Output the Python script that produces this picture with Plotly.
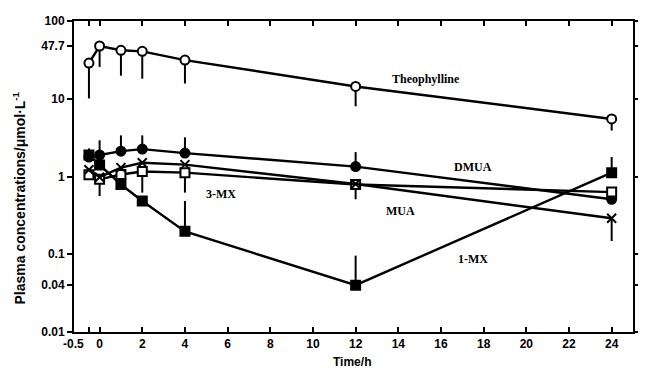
import math
import plotly.graph_objects as go

time_h = [-0.5, 0, 1, 2, 4, 12, 24]

theophylline = [28.8, 47.7, 42.0, 40.7, 31.4, 14.4, 5.5]
theo_lo = [10.1, 25.7, 19.8, 18.1, 15.7, 8.0, 3.9]

dmua = [1.78, 1.89, 2.12, 2.25, 2.0, 1.34, 0.51]
dmua_hi = [2.3, 2.92, 3.38, 3.38, 3.19, 2.06, 0.51]

mua = [1.05, 0.92, 1.06, 1.16, 1.12, 0.79, 0.63]
mua_lo = [1.05, 0.56, 1.06, 0.62, 0.62, 0.51, 0.63]

mx3 = [1.22, 0.98, 1.30, 1.50, 1.42, 0.80, 0.29]
mx3_lo = [1.22, 0.98, 1.30, 1.50, 1.42, 0.80, 0.148]

mx1 = [1.89, 1.41, 0.79, 0.485, 0.197, 0.040, 1.12]
mx1_hi = [1.89, 1.41, 0.79, 0.485, 0.485, 0.096, 1.78]

y_ticks = [100, 47.7, 10, 1, 0.1, 0.04, 0.01]
y_ticktext = ["100", "47.7", "10", "1", "0.1", "0.04", "0.01"]
x_ticks = [-0.5, 0, 2, 4, 6, 8, 10, 12, 14, 16, 18, 20, 22, 24]
x_ticktext = ["-0.5", "0", "2", "4", "6", "8", "10", "12", "14", "16", "18", "20", "22", "24"]

labels = ["Theophylline", "DMUA", "MUA", "3-MX", "1-MX"]
label_x = [15.3, 17.5, 14.1, 5.7, 17.5]
label_y = [18.1, 1.34, 0.36, 0.59, 0.088]


def err(vals, hi=None, lo=None):
    plus = [h - v for v, h in zip(vals, hi)] if hi else [0] * len(vals)
    minus = [v - l for v, l in zip(vals, lo)] if lo else [0] * len(vals)
    return dict(type="data", symmetric=False, array=plus, arrayminus=minus,
                color="black", thickness=2, width=0)


fig = go.Figure()
series = [
    (theophylline, None, theo_lo, "circle", "white"),
    (dmua, dmua_hi, None, "circle", "black"),
    (mua, None, mua_lo, "square", "white"),
    (mx3, None, mx3_lo, "x-thin-open", "black"),
    (mx1, mx1_hi, None, "square", "black"),
]
for vals, hi, lo, sym, fill in series:
    marker = dict(symbol=sym, size=9, color=fill, line=dict(color="black", width=2))
    fig.add_trace(go.Scatter(
        x=time_h, y=vals, mode="lines+markers",
        line=dict(color="black", width=2.4),
        marker=marker,
        error_y=err(vals, hi, lo),
        showlegend=False, cliponaxis=False,
    ))

for t, xv, yv in zip(labels, label_x, label_y):
    fig.add_annotation(x=xv, y=math.log10(yv), yref="y", xref="x", text=f"<b>{t}</b>",
                       showarrow=False,
                       font=dict(family="Liberation Serif", size=12, color="black"))

# first x tick label, drawn shifted left as in the original (avoids overlap with "0")
fig.add_annotation(x=x_ticks[0], y=0, xref="x", yref="paper", text=f"<b>{x_ticktext[0]}</b>",
                   showarrow=False, xanchor="center", yanchor="top", xshift=-15, yshift=-3,
                   font=dict(family="Liberation Sans", size=12, color="black"))

# axis titles
fig.add_annotation(x=-0.098, y=0.43, xref="paper", yref="paper",
                   xanchor="center", yanchor="middle",
                   text="<b>Plasma concentrations/μmol·L<sup>-1</sup></b>",
                   textangle=-90, showarrow=False,
                   font=dict(family="Liberation Sans", size=14, color="black"))
fig.add_annotation(x=0.498, y=-0.095, xref="paper", yref="paper",
                   xanchor="center", yanchor="middle",
                   text="<b>Time/h</b>", showarrow=False,
                   font=dict(family="Liberation Sans", size=12, color="black"))

fig.update_layout(
    width=638, height=375,
    margin=dict(l=66, r=6, t=6, b=51),
    paper_bgcolor="white", plot_bgcolor="white",
    font=dict(family="Liberation Sans", color="black", size=12),
)
fig.update_xaxes(
    range=[-1.2, 25.0], tickmode="array", tickvals=x_ticks,
    ticktext=[""] + [f"<b>{s}</b>" for s in x_ticktext[1:]], tickangle=0,
    ticks="inside", ticklen=5, tickwidth=1.5, tickcolor="black",
    showline=True, linecolor="black", linewidth=2, mirror="ticks",
    showgrid=False, zeroline=False,
)
fig.update_yaxes(
    type="log", range=[-2, 2], tickmode="array", tickvals=y_ticks,
    ticktext=[f"<b>{s}</b>" for s in y_ticktext],
    ticks="outside", ticklen=5, tickwidth=1.5, tickcolor="black",
    showline=True, linecolor="black", linewidth=2, mirror="ticks",
    showgrid=False, zeroline=False,
)

fig.write_html("out.html")
